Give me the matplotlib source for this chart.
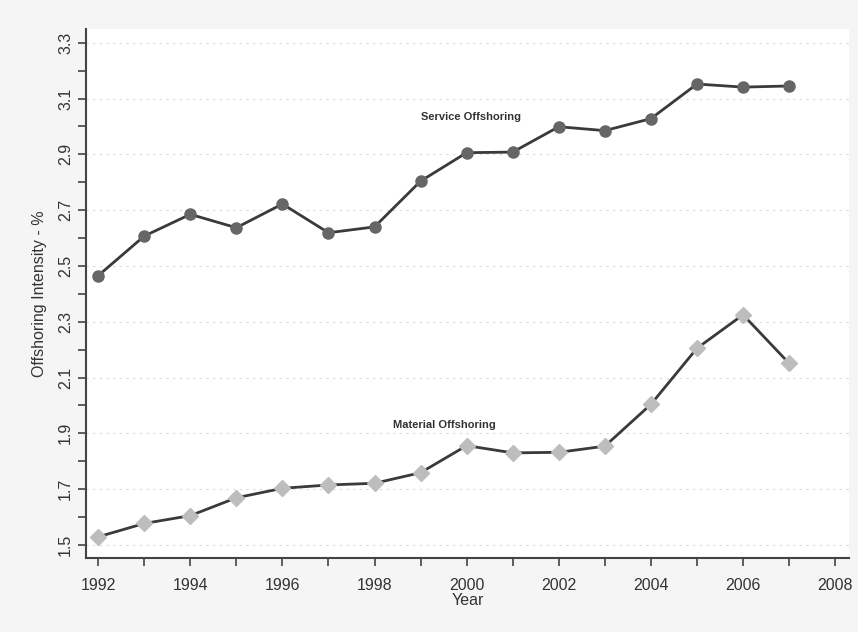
import matplotlib
matplotlib.use("Agg")
import matplotlib.pyplot as plt
import numpy as np

plt.rcParams['font.family'] = ['Liberation Sans', 'DejaVu Sans']

years = list(range(1992, 2008))
service = [2.465, 2.607, 2.685, 2.637, 2.722, 2.619, 2.640, 2.804,
           2.906, 2.908, 2.999, 2.985, 3.028, 3.152, 3.141, 3.145]
material = [1.529, 1.577, 1.605, 1.669, 1.703, 1.715, 1.721, 1.759,
            1.856, 1.830, 1.832, 1.854, 2.004, 2.205, 2.325, 2.151]

fig = plt.figure(figsize=(8.58, 6.32), dpi=100, facecolor='#f5f5f5')
ax = fig.add_axes([0.0999, 0.117, 0.8896, 0.837])
ax.set_facecolor('white')

# faint dotted grid like the scan
for v in np.arange(1.5, 3.31, 0.2):
    ax.axhline(v, color='#dadada', lw=0.8, ls=(0, (2, 4)), zorder=0)

ax.plot(years, service, color='#3a3a3a', lw=2, marker='o', ms=8,
        mfc='#666666', mec='#666666', zorder=3)
ax.plot(years, material, color='#3a3a3a', lw=2, marker='D', ms=8,
        mfc='#bdbdbd', mec='#bdbdbd', zorder=3)

ax.text(1999.0, 3.034, 'Service Offshoring', fontsize=8, fontweight='bold',
        color='#333333', ha='left', va='center')
ax.text(1998.4, 1.93, 'Material Offshoring', fontsize=8, fontweight='bold',
        color='#333333', ha='left', va='center')

ax.set_xlim(1991.73, 2008.3)
ax.set_ylim(1.453, 3.349)

ax.set_xticks(range(1992, 2009, 2))
ax.set_xticks(range(1992, 2009), minor=True)
ax.set_yticks(np.round(np.arange(1.5, 3.31, 0.2), 1))
ax.set_yticks(np.round(np.arange(1.6, 3.31, 0.2), 1), minor=True)
ax.set_yticklabels(['%.1f' % v for v in np.arange(1.5, 3.31, 0.2)],
                   rotation=90, va='center')

ax.tick_params(axis='both', which='both', direction='out', length=6,
               width=1.2, color='#444444', labelsize=11.5, labelcolor='#333333')
ax.tick_params(axis='x', pad=8)
ax.tick_params(axis='y', pad=3)

for s in ['top', 'right']:
    ax.spines[s].set_visible(False)
for s in ['left', 'bottom']:
    ax.spines[s].set_color('#444444')
    ax.spines[s].set_linewidth(1.5)

ax.set_xlabel('Year', fontsize=11.5, color='#333333', labelpad=0)
ax.set_ylabel('Offshoring Intensity - %', fontsize=11.5, color='#333333', labelpad=8)

fig.savefig('out.png', dpi=100, facecolor=fig.get_facecolor())
